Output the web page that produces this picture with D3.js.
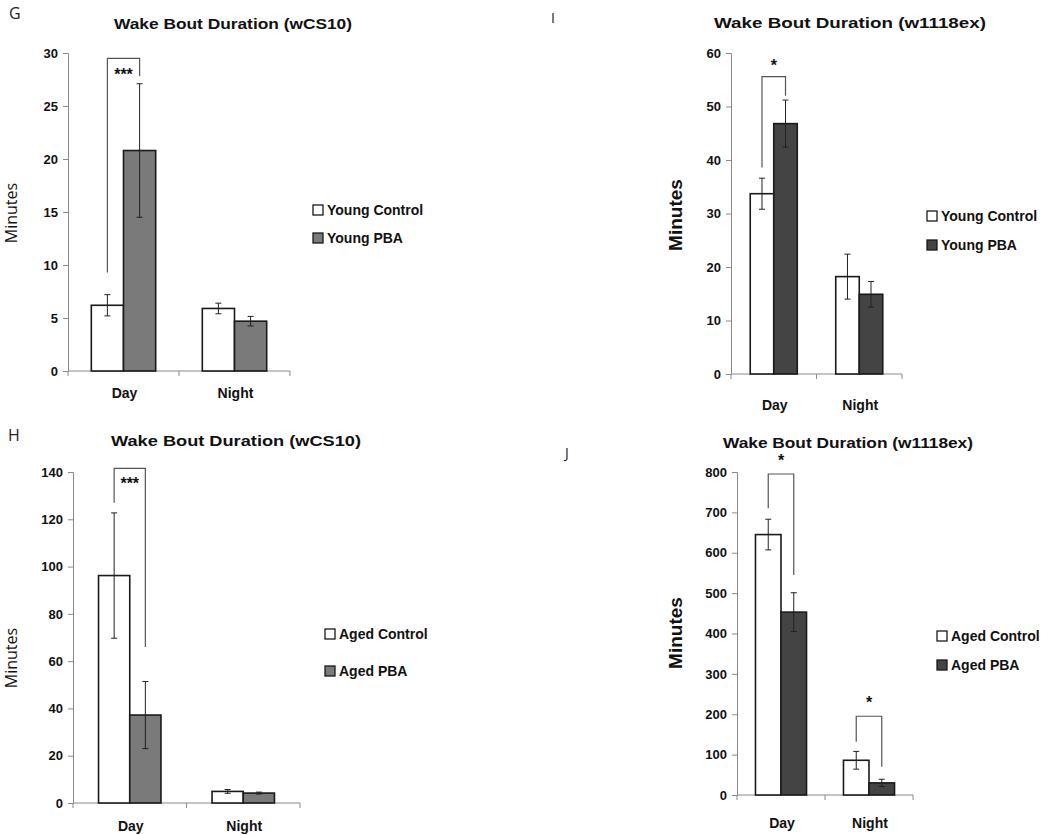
<!DOCTYPE html>
<html><head><meta charset="utf-8">
<script src="https://cdn.jsdelivr.net/npm/d3@7/dist/d3.min.js"></script>
<style>body{margin:0;background:#fff}svg{display:block}</style>
</head><body><svg id="c" width="1050" height="835"></svg>
<script>
// ---- data ----
const categories = ["Day", "Night"];
// Panel G (Young, wCS10)
const gControl = [6.2, 5.9], gControlErr = [1.0, 0.5];
const gPBA = [20.8, 4.7], gPBAErr = [6.3, 0.45];
const gTicks = [0, 5, 10, 15, 20, 25, 30];
const gSeries = ["Young Control", "Young PBA"];
// Panel I (Young, w1118ex)
const iControl = [33.7, 18.2], iControlErr = [2.9, 4.2];
const iPBA = [46.8, 14.9], iPBAErr = [4.4, 2.4];
const iTicks = [0, 10, 20, 30, 40, 50, 60];
const iSeries = ["Young Control", "Young PBA"];
// Panel H (Aged, wCS10)
const hControl = [96.2, 4.9], hControlErr = [26.5, 0.8];
const hPBA = [37.2, 4.2], hPBAErr = [14.2, 0.4];
const hTicks = [0, 20, 40, 60, 80, 100, 120, 140];
const hSeries = ["Aged Control", "Aged PBA"];
// Panel J (Aged, w1118ex)
const jControl = [645, 86], jControlErr = [38, 22];
const jPBA = [453, 30], jPBAErr = [48, 9];
const jTicks = [0, 100, 200, 300, 400, 500, 600, 700, 800];
const jSeries = ["Aged Control", "Aged PBA"];
// significance brackets: [category, leftY, topY, rightY, label]
const gBrackets = [["Day", 9.3, 29.5, 27.8, "***"]];
const iBrackets = [["Day", 38.6, 55.6, 52.0, "*"]];
const hBrackets = [["Day", 127, 141.5, 66, "***"]];
const jBrackets = [["Day", 710, 795, 545, "*"], ["Night", 132, 195, 70, "*"]];

const svg = d3.select("#c");
const FONT = "'Liberation Sans Narrow','Liberation Sans',Arial,sans-serif";

function panel(o) {
  const g = svg.append("g");
  const y = d3.scaleLinear().domain([0, o.max]).range([o.y0, o.yTop]);
  const x = d3.scaleBand().domain(categories).range([o.x0, o.x1]);
  const inner = d3.scaleBand().domain([0, 1])
    .range([x.bandwidth() * o.pad, x.bandwidth() * (1 - o.pad)]);
  // panel letter
  g.append("text").attr("x", o.letterX).attr("y", o.letterY).text(o.letter)
    .attr("font-family", "'Open Sans','DejaVu Sans',sans-serif").attr("font-size", o.letterSize).attr("fill", "#222");
  // title
  g.append("text").attr("x", o.titleX).attr("y", o.titleY).attr("text-anchor", "middle")
    .attr("font-family", FONT).attr("font-weight", "bold").attr("font-size", 15)
    .attr("textLength", o.titleW).attr("lengthAdjust", "spacingAndGlyphs")
    .attr("fill", "#111").text(o.title);
  // y axis
  const ya = g.append("g").attr("transform", `translate(${o.x0},0)`)
    .call(d3.axisLeft(y).tickValues(o.ticks).tickSize(5).tickPadding(5).tickFormat(d3.format("d")));
  ya.select(".domain").attr("stroke", "#8a8a8a");
  ya.selectAll(".tick line").attr("stroke", "#8a8a8a");
  ya.selectAll(".tick text").attr("font-family", FONT).attr("font-weight", "bold")
    .attr("font-size", 13).attr("fill", "#111");
  // x axis
  const bounds = [o.x0, ...categories.map(c => x(c) + x.bandwidth())];
  g.append("line").attr("x1", o.x0).attr("x2", o.x1).attr("y1", o.y0).attr("y2", o.y0).attr("stroke", "#8a8a8a");
  g.selectAll(".xt").data(bounds).join("line").attr("x1", d => d).attr("x2", d => d)
    .attr("y1", o.y0).attr("y2", o.y0 + 5).attr("stroke", "#8a8a8a");
  g.selectAll(".xl").data(categories).join("text")
    .attr("x", d => x(d) + x.bandwidth() / 2 + 1).attr("y", o.y0 + o.catDy)
    .attr("text-anchor", "middle").attr("font-family", FONT).attr("font-weight", "bold")
    .attr("font-size", 14).attr("fill", "#111").text(d => d);
  // y label
  g.append("text").attr("transform", `translate(${o.ylabX},${o.ylabY}) rotate(-90)`)
    .attr("text-anchor", "middle")
    .attr("font-family", o.ylabBold ? FONT : "'Open Sans','DejaVu Sans',sans-serif")
    .attr("font-weight", o.ylabBold ? "bold" : "normal")
    .attr("font-size", o.ylabBold ? 19 : 16).attr("fill", "#111").text("Minutes");
  // bars
  const series = [
    { vals: o.ctrl, err: o.ctrlErr, fill: "#ffffff" },
    { vals: o.pba, err: o.pbaErr, fill: o.pbaColor }
  ];
  series.forEach((s, si) => {
    categories.forEach((c, ci) => {
      const bx = x(c) + inner(si);
      const bw = inner.bandwidth();
      g.append("rect").attr("x", bx).attr("y", y(s.vals[ci])).attr("width", bw)
        .attr("height", y(0) - y(s.vals[ci])).attr("fill", s.fill)
        .attr("stroke", "#1a1a1a").attr("stroke-width", 1.6);
      const cx = bx + bw / 2;
      const hi = y(s.vals[ci] + s.err[ci]), lo = y(Math.max(0, s.vals[ci] - s.err[ci]));
      g.append("line").attr("x1", cx).attr("x2", cx).attr("y1", hi).attr("y2", lo).attr("stroke", "#222").attr("stroke-width", 1);
      [hi, lo].forEach(v => g.append("line").attr("x1", cx - 3).attr("x2", cx + 3)
        .attr("y1", v).attr("y2", v).attr("stroke", "#222").attr("stroke-width", 1));
    });
  });
  // brackets
  o.brackets.forEach(b => {
    const c = b[0];
    const lx = x(c) + inner(0) + inner.bandwidth() / 2;
    const rx = x(c) + inner(1) + inner.bandwidth() / 2;
    g.append("path").attr("d", `M${lx},${y(b[1])}V${y(b[2])}H${rx}V${y(b[3])}`)
      .attr("fill", "none").attr("stroke", "#555").attr("stroke-width", 1.2);
    g.append("text").attr("x", (lx + rx) / 2).attr("y", y(b[2]) + o.starDy)
      .attr("text-anchor", "middle").attr("font-family", FONT).attr("font-weight", "bold")
      .attr("font-size", 16).attr("fill", "#111").text(b[4]);
  });
  // legend
  o.series.forEach((name, i) => {
    const ly = o.legY + i * o.legGap;
    g.append("rect").attr("x", o.legX).attr("y", ly - 5).attr("width", 10).attr("height", 10)
      .attr("fill", i === 0 ? "#fff" : o.pbaColor).attr("stroke", "#1a1a1a").attr("stroke-width", 1.3);
    g.append("text").attr("x", o.legX + 14).attr("y", ly + 5).attr("font-family", FONT)
      .attr("font-weight", "bold").attr("font-size", 14).attr("fill", "#111").text(name);
  });
}

panel({ letter: "G", letterX: 9, letterY: 19, letterSize: 16,
  title: "Wake Bout Duration (wCS10)", titleX: 233, titleY: 29, titleW: 238,
  x0: 68, x1: 290, y0: 371, yTop: 53, max: 30, ticks: gTicks, pad: 0.21,
  ctrl: gControl, ctrlErr: gControlErr, pba: gPBA, pbaErr: gPBAErr, pbaColor: "#7a7a7a",
  brackets: gBrackets, starDy: 22, series: gSeries, legX: 313, legY: 210, legGap: 28,
  ylabX: 17, ylabY: 213, ylabBold: false, catDy: 27 });

panel({ letter: "I", letterX: 551, letterY: 23, letterSize: 14,
  title: "Wake Bout Duration (w1118ex)", titleX: 850, titleY: 28, titleW: 272,
  x0: 731, x1: 902, y0: 374, yTop: 53, max: 60, ticks: iTicks, pad: 0.225,
  ctrl: iControl, ctrlErr: iControlErr, pba: iPBA, pbaErr: iPBAErr, pbaColor: "#444444",
  brackets: iBrackets, starDy: -6, series: iSeries, legX: 927, legY: 216, legGap: 29,
  ylabX: 682, ylabY: 215, ylabBold: true, catDy: 36 });

panel({ letter: "H", letterX: 8, letterY: 441, letterSize: 16,
  title: "Wake Bout Duration (wCS10)", titleX: 236, titleY: 446, titleW: 250,
  x0: 73, x1: 300, y0: 803, yTop: 472, max: 140, ticks: hTicks, pad: 0.225,
  ctrl: hControl, ctrlErr: hControlErr, pba: hPBA, pbaErr: hPBAErr, pbaColor: "#7a7a7a",
  brackets: hBrackets, starDy: 21, series: hSeries, legX: 325, legY: 634, legGap: 37,
  ylabX: 17, ylabY: 658, ylabBold: false, catDy: 28 });

panel({ letter: "J", letterX: 565, letterY: 458, letterSize: 14,
  title: "Wake Bout Duration (w1118ex)", titleX: 848, titleY: 448, titleW: 250,
  x0: 737, x1: 913, y0: 795, yTop: 472, max: 800, ticks: jTicks, pad: 0.21,
  ctrl: jControl, ctrlErr: jControlErr, pba: jPBA, pbaErr: jPBAErr, pbaColor: "#444444",
  brackets: jBrackets, starDy: -8, series: jSeries, legX: 937, legY: 636, legGap: 29,
  ylabX: 682, ylabY: 633, ylabBold: true, catDy: 33 });
</script></body></html>
